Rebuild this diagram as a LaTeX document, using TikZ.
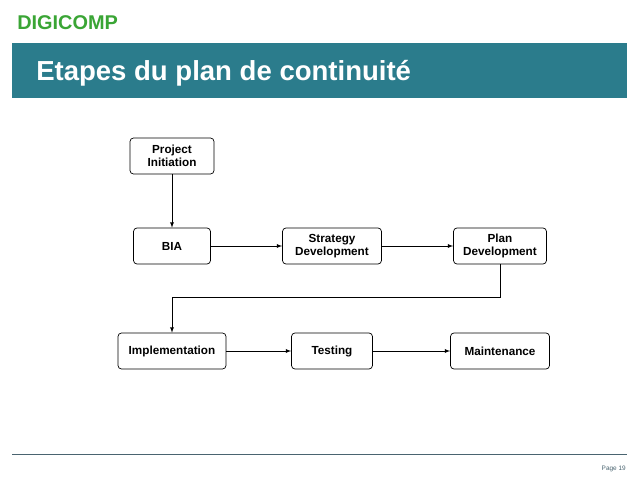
\documentclass[tikz,border=0pt]{standalone}
\usepackage{fontspec}
\setmainfont{Liberation Sans}
\usetikzlibrary{arrows,positioning}
\definecolor{barteal}{HTML}{2B7C8C}
\definecolor{logogreen}{HTML}{3AA535}
\definecolor{footgray}{HTML}{4A6470}

\begin{document}
\begin{tikzpicture}[x=0.03cm,y=-0.03cm,->,>=latex,line width=0.6pt,
                    font=\fontsize{10}{11.5}\selectfont\bfseries]
  \tikzstyle{every node}=[align=center]
  \tikzstyle{stepbox}=[draw=black,line width=0.6pt,rounded corners=3pt,minimum height=1.08cm,inner sep=1pt]

  \useasboundingbox (0,0) rectangle (638,479);
  % header
  \node[text=logogreen,font=\fontsize{17}{19}\selectfont\bfseries,anchor=west] (logo) at (13,23) {DIGICOMP};
  \fill[barteal] (12,43) rectangle (627,98);
  \node[text=white,font=\fontsize{23.5}{26}\selectfont\bfseries,anchor=west] (title) at (32,73) {Etapes du plan de continuité};

  % steps
  \node[stepbox,minimum width=2.52cm] (PI)   at (172,156) {Project\\Initiation};
  \node[stepbox,minimum width=2.31cm] (BIA)  at (172,246) {BIA};
  \node[stepbox,minimum width=2.97cm] (SD)   at (332,246) {Strategy\\Development};
  \node[stepbox,minimum width=2.79cm] (PD)   at (500,246) {Plan\\Development};
  \node[stepbox,minimum width=3.24cm] (IMP)  at (172,351) {Implementation};
  \node[stepbox,minimum width=2.43cm] (TEST) at (332,351) {Testing};
  \node[stepbox,minimum width=2.97cm] (MAIN) at (500,351) {Maintenance};

  \path (PI) edge (BIA);
  \path (BIA) edge (SD);
  \path (SD) edge (PD);
  \draw (PD.south) |- (172,297) -- (IMP.north);
  \path (IMP) edge (TEST);
  \path (TEST) edge (MAIN);

  % footer
  \draw[-,footgray,thick] (12,454) -- (627,454);
  \node[text=footgray,font=\fontsize{5.5}{6}\selectfont,anchor=east] (page) at (630,469) {Page 19};
\end{tikzpicture}
\end{document}
